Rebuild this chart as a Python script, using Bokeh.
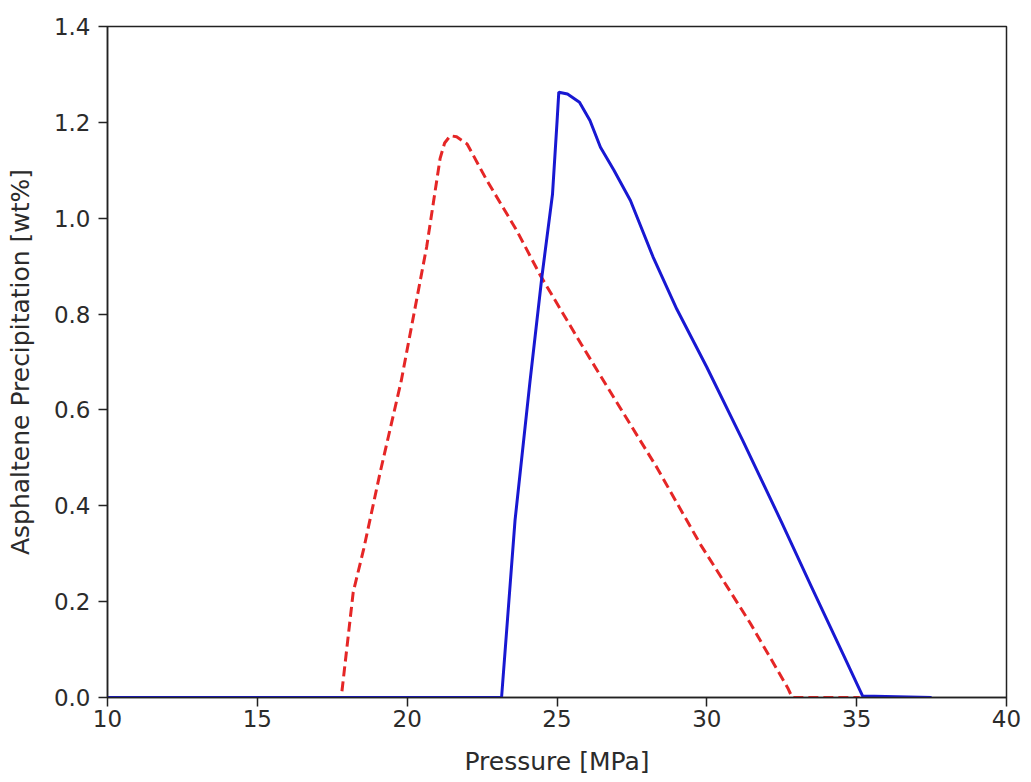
from bokeh.plotting import figure
from bokeh.models import Range1d, FixedTicker, NumeralTickFormatter
from bokeh.embed import file_html
from bokeh.resources import INLINE

# Red dashed series
red_p = [10, 17.8, 18.2, 18.55, 19.1, 19.8, 20.65, 21.1, 21.25, 21.44, 21.65, 22.0, 22.65, 23.65,
         24.45, 25.8, 27.1, 28.35, 29.0, 29.8, 31.45, 32.7, 32.85, 35.1]
red_w = [0, 0, 0.22, 0.31, 0.47, 0.66, 0.94, 1.125, 1.157, 1.172, 1.17, 1.155, 1.08, 0.975,
         0.88, 0.738, 0.605, 0.478, 0.406, 0.318, 0.155, 0.02, 0, 0]

# Blue solid series
blue_p = [10, 23.15, 23.6, 24.1, 24.5, 24.85, 25.0, 25.06, 25.35, 25.75, 26.1, 26.45,
          26.9, 27.45, 28.2, 29.0, 30.0, 31.2, 32.5, 33.5, 34.55, 35.2, 37.5]
blue_w = [0, 0, 0.37, 0.66, 0.88, 1.05, 1.2, 1.263, 1.259, 1.242, 1.204, 1.148,
          1.10, 1.037, 0.92, 0.81, 0.689, 0.536, 0.365, 0.23, 0.09, 0.003, 0]

x_ticks = [10, 15, 20, 25, 30, 35, 40]
y_ticks = [0.0, 0.2, 0.4, 0.6, 0.8, 1.0, 1.2, 1.4]

FONT = "DejaVu Sans"
TXT = "#2b2b2b"

p = figure(width=1023, height=780, output_backend="svg", toolbar_location=None,
           x_range=Range1d(10, 40), y_range=Range1d(0, 1.4),
           min_border_left=107, min_border_right=17, min_border_top=26, min_border_bottom=83)

p.line(red_p, red_w, line_color="#e52626", line_width=3, line_dash="10 5")
p.line(blue_p, blue_w, line_color="#1818d2", line_width=3)

p.grid.visible = False
p.outline_line_color = "#222222"
p.outline_line_width = 1.5
p.background_fill_color = "white"
p.border_fill_color = "white"

for ax in (p.xaxis[0], p.yaxis[0]):
    ax.axis_line_color = "#222222"
    ax.axis_line_width = 1.5
    ax.major_tick_line_color = "#222222"
    ax.major_tick_line_width = 1.5
    ax.major_tick_out = 9
    ax.major_tick_in = 0
    ax.minor_tick_line_color = None
    ax.major_label_text_font = FONT
    ax.major_label_text_font_size = "23px"
    ax.major_label_text_color = TXT
    ax.axis_label_text_font = FONT
    ax.axis_label_text_font_size = "25px"
    ax.axis_label_text_font_style = "normal"
    ax.axis_label_text_color = TXT

p.xaxis.ticker = FixedTicker(ticks=x_ticks)
p.yaxis.ticker = FixedTicker(ticks=y_ticks)
p.yaxis.formatter = NumeralTickFormatter(format="0.0")
p.xaxis.axis_label = "Pressure [MPa]"
p.yaxis.axis_label = "Asphaltene Precipitation [wt%]"
p.xaxis.major_label_standoff = 3
p.yaxis.major_label_standoff = 8
p.xaxis.axis_label_standoff = 17
p.yaxis.axis_label_standoff = 16

open("out.html", "w").write(file_html(p, INLINE))
